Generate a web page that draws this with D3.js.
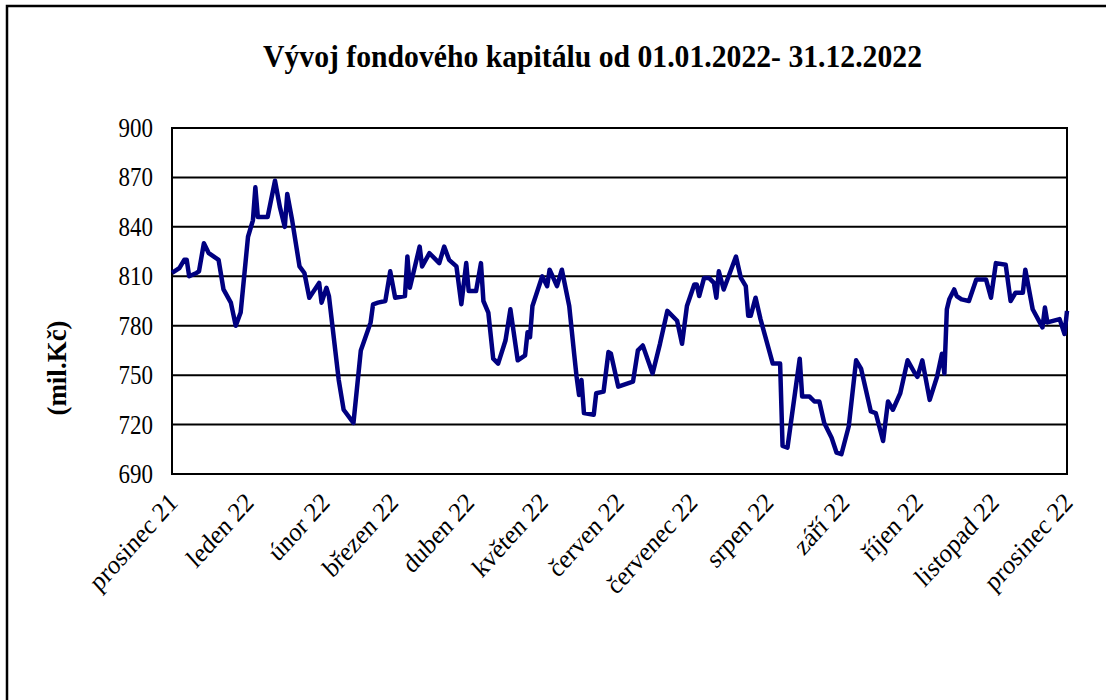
<!DOCTYPE html>
<html lang="cs">
<head>
<meta charset="utf-8">
<title>Vývoj fondového kapitálu</title>
<script src="https://cdnjs.cloudflare.com/ajax/libs/d3/7.8.5/d3.min.js"></script>
<style>
  body { margin: 0; background: #fff; }
  text { font-family: "Liberation Serif", "Times New Roman", serif; fill: #000; }
</style>
</head>
<body>
<div id="chart"></div>
<script>
// osa x - popisky mesicu
var monthLabels = ["prosinec 21", "leden 22", "únor 22", "březen 22", "duben 22", "květen 22",
                   "červen 22", "červenec 22", "srpen 22", "září 22", "říjen 22", "listopad 22", "prosinec 22"];
// dny od 1.12.2021
var days = [0, 3, 5, 6, 7, 10, 11, 13, 15, 19, 21, 24, 26, 28, 31, 33, 34, 35, 39, 42,
            44, 46, 47, 49, 52, 54, 56, 60, 61, 63, 64, 68, 70, 74, 77, 81, 82, 84, 87, 89,
            91, 95, 96, 97, 101, 102, 105, 109, 111, 113, 116, 118, 120, 121, 124, 126, 127, 129, 131, 133,
            136, 138, 141, 144, 145, 146, 147, 151, 153, 154, 157, 159, 162, 164, 165, 166, 167, 168, 172, 173,
            176, 178, 179, 182, 188, 190, 192, 196, 199, 202, 206, 208, 210, 213, 214, 215, 217, 219, 221, 222,
            223, 225, 230, 232, 234, 235, 236, 238, 240, 245, 248, 249, 251, 256, 257, 260, 262, 264, 266, 269,
            271, 273, 276, 279, 281, 285, 287, 290, 292, 294, 297, 300, 303, 304, 306, 309, 312, 314, 315, 316,
            317, 319, 320, 322, 325, 328, 332, 334, 336, 340, 342, 344, 347, 348, 351, 355, 356, 357, 362, 364, 365];
// fondovy kapital (mil. Kc)
var values = [812, 815, 820, 820, 810, 812, 813, 830, 824, 820, 802, 794, 780, 788, 834, 844, 864, 846, 846, 868,
              852, 840, 860, 844, 816, 812, 797, 806, 794, 803, 798, 747, 729, 721, 765, 782, 793, 794, 795, 813,
              797, 798, 822, 803, 828, 816, 824, 818, 828, 820, 816, 793, 818, 801, 801, 818, 795, 788, 760, 757,
              771, 790, 759, 762, 776, 773, 792, 810, 804, 814, 804, 814, 792, 763, 749, 738, 747, 727, 726, 739,
              740, 764, 763, 743, 746, 765, 768, 751, 769, 789, 783, 769, 792, 805, 805, 798, 809, 809, 806, 797,
              813, 802, 822, 809, 804, 786, 786, 797, 784, 757, 757, 707, 706, 760, 737, 737, 734, 734, 721, 712,
              703, 702, 719, 759, 754, 728, 727, 710, 734, 729, 739, 759, 751, 749, 759, 735, 749, 763, 751, 790,
              796, 802, 798, 796, 795, 808, 808, 797, 818, 817, 795, 800, 800, 814, 790, 779, 791, 782, 784, 775, 789];
var yTicks = [690, 720, 750, 780, 810, 840, 870, 900];

var width = 1106, height = 700;
var plotLeft = 172, plotRight = 1067, plotTop = 128, plotBottom = 474;
var start = new Date(2021, 11, 1);

var data = days.map(function(d, i) {
    return { date: d3.timeDay.offset(start, d), value: values[i] };
});

var svg = d3.select("#chart").append("svg")
    .attr("width", width)
    .attr("height", height);

// ramecek
svg.append("path")
    .attr("d", "M7," + (height + 5) + "V6H" + (width + 5))
    .attr("fill", "none")
    .attr("stroke", "#000")
    .attr("stroke-width", 2.5);

var x = d3.scaleTime()
    .domain([start, d3.timeMonth.offset(start, 12)])
    .range([plotLeft, plotRight]);
var y = d3.scaleLinear()
    .domain([690, 900])
    .range([plotBottom, plotTop]);

// mrizka
svg.append("g")
    .selectAll("line")
    .data(yTicks.slice(1, -1))
    .enter().append("line")
    .attr("x1", plotLeft).attr("x2", plotRight)
    .attr("y1", function(d) { return y(d); })
    .attr("y2", function(d) { return y(d); })
    .attr("stroke", "#000")
    .attr("stroke-width", 2);

svg.append("rect")
    .attr("x", plotLeft).attr("y", plotTop)
    .attr("width", plotRight - plotLeft).attr("height", plotBottom - plotTop)
    .attr("fill", "none")
    .attr("stroke", "#000")
    .attr("stroke-width", 2);

// popisky osy y
svg.append("g")
    .selectAll("text")
    .data(yTicks)
    .enter().append("text")
    .attr("transform", function(d) { return "translate(153," + (y(d) + 9) + ") scale(0.85,1)"; })
    .attr("text-anchor", "end")
    .attr("font-size", 27)
    .text(function(d) { return d; });

// popisky osy x
var ticks = d3.timeMonth.range(start, d3.timeDay.offset(x.domain()[1], 1));
svg.append("g")
    .selectAll("text")
    .data(ticks)
    .enter().append("text")
    .attr("transform", function(d) { return "translate(" + (x(d) + 7) + ",504) scale(0.9,1) rotate(-45)"; })
    .attr("text-anchor", "end")
    .attr("font-size", 27)
    .text(function(d, i) { return monthLabels[i]; });

// nadpis
svg.append("text")
    .attr("x", 263)
    .attr("y", 67)
    .attr("font-size", 32)
    .attr("font-weight", "bold")
    .attr("textLength", 659)
    .attr("lengthAdjust", "spacingAndGlyphs")
    .text("Vývoj fondového kapitálu od 01.01.2022- 31.12.2022");

svg.append("text")
    .attr("transform", "translate(66,368) rotate(-90)")
    .attr("text-anchor", "middle")
    .attr("font-size", 27)
    .attr("font-weight", "bold")
    .text("(mil.Kč)");

// krivka
var line = d3.line()
    .x(function(d) { return x(d.date); })
    .y(function(d) { return y(d.value); });

svg.append("path")
    .datum(data)
    .attr("d", line)
    .attr("fill", "none")
    .attr("stroke", "#000080")
    .attr("stroke-width", 4.5)
    .attr("stroke-linejoin", "round");
</script>
</body>
</html>
